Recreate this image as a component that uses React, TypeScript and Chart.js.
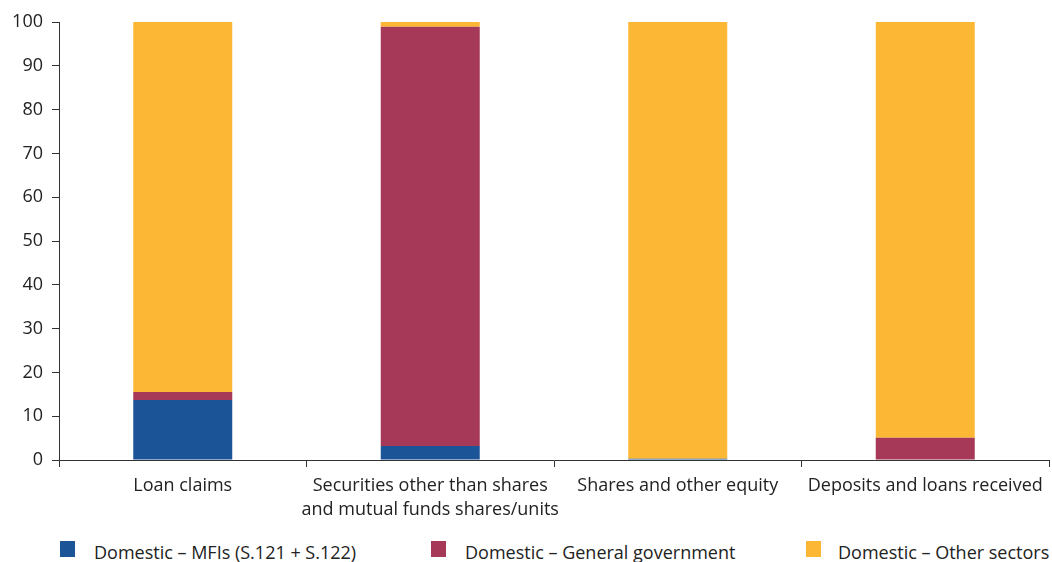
import React, { useEffect, useRef } from "react";
import { Chart, registerables } from "chart.js";

Chart.register(...registerables);

const categories: (string | string[])[] = [
  "Loan claims",
  ["Securities other than shares", "and mutual funds shares/units"],
  "Shares and other equity",
  "Deposits and loans received",
];
const mfis = [13.7, 3.2, 0.3, 0];
const generalGovernment = [1.8, 95.7, 0, 5.1];
const otherSectors = [84.5, 1.1, 99.7, 94.9];
const seriesNames = [
  "Domestic – MFIs (S.121 + S.122)",
  "Domestic – General government",
  "Domestic – Other sectors",
];
const colors = ["#1c5498", "#a53957", "#fcb834"];

const FONT = "'Open Sans', sans-serif";
const TEXT = "#222222";
const AXIS = "#333333";

export default function App() {
  const ref = useRef<HTMLCanvasElement | null>(null);
  useEffect(() => {
    document.body.style.margin = "0";
    const ctx = ref.current!;
    const chart = new Chart(ctx, {
      type: "bar",
      data: {
        labels: categories,
        datasets: [
          { label: seriesNames[0], data: mfis, backgroundColor: colors[0] },
          { label: seriesNames[1], data: generalGovernment, backgroundColor: colors[1] },
          { label: seriesNames[2], data: otherSectors, backgroundColor: colors[2] },
        ],
      },
      options: {
        responsive: false,
        animation: false,
        maintainAspectRatio: false,
        layout: { padding: { top: 22, right: 3, left: 0, bottom: 0 } },
        datasets: { bar: { barPercentage: 0.5, categoryPercentage: 0.8 } },
        plugins: { legend: { display: false }, tooltip: { enabled: false } },
        scales: {
          x: {
            stacked: true,
            offset: true,
            grid: {
              display: true,
              offset: true,
              drawOnChartArea: false,
              tickLength: 7,
              color: AXIS,
              tickColor: AXIS,
            },
            border: { display: true, color: AXIS, width: 1 },
            ticks: {
              color: TEXT,
              font: { family: FONT, size: 18, lineHeight: 1.33 },
              padding: 7,
              maxRotation: 0,
              autoSkip: false,
            },
            afterFit: (s: any) => {
              s.height = 70;
            },
          },
          y: {
            stacked: true,
            min: 0,
            max: 100,
            grid: {
              display: true,
              drawOnChartArea: false,
              tickLength: 7,
              color: AXIS,
              tickColor: AXIS,
            },
            border: { display: true, color: AXIS, width: 1 },
            ticks: {
              stepSize: 10,
              color: TEXT,
              font: { family: FONT, size: 18 },
              padding: 9,
            },
            afterFit: (s: any) => {
              s.width = 59;
            },
          },
        },
      },
    });
    return () => chart.destroy();
  }, []);

  const legendPos = [
    { box: 60, text: 94 },
    { box: 431, text: 465 },
    { box: 806, text: 838 },
  ];

  return (
    <div style={{ position: "relative", width: 1052, height: 562, overflow: "hidden", background: "#fff" }}>
      <canvas ref={ref} width={1052} height={530} style={{ position: "absolute", left: 0, top: 0 }} />
      {seriesNames.map((n, i) => (
        <React.Fragment key={n}>
          <div
            style={{
              position: "absolute",
              left: legendPos[i].box,
              top: 541,
              width: 15,
              height: 16,
              background: colors[i],
            }}
          />
          <div
            style={{
              position: "absolute",
              left: legendPos[i].text,
              top: 540,
              fontFamily: FONT,
              fontSize: 18,
              color: TEXT,
              whiteSpace: "nowrap",
              lineHeight: "24px",
            }}
          >
            {n}
          </div>
        </React.Fragment>
      ))}
    </div>
  );
}
